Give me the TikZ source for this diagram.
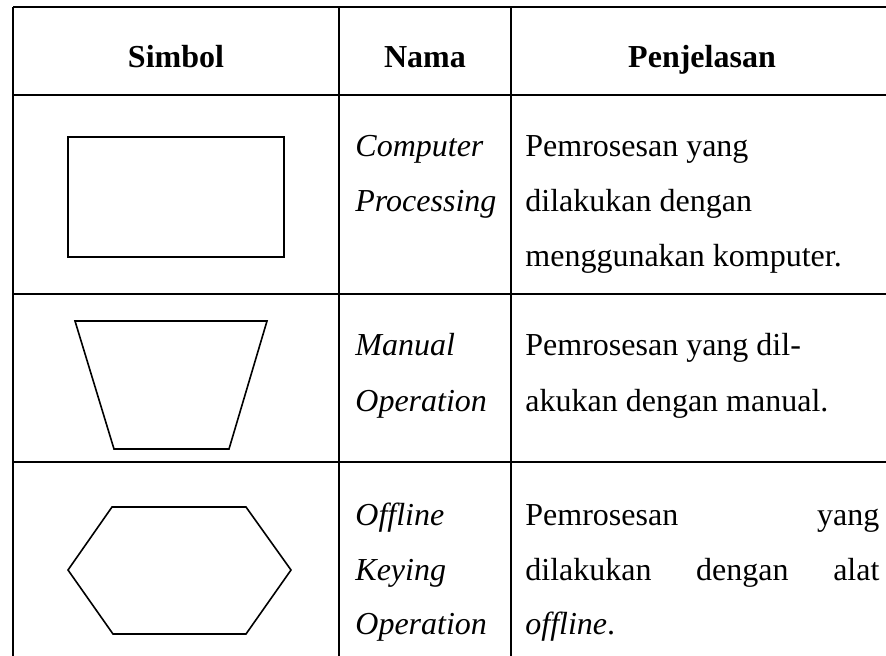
\documentclass[tikz,border=0pt]{standalone}
\usepackage{fontspec}
\setmainfont{Liberation Serif}
\begin{document}
\begin{tikzpicture}[x=0.5pt,y=-0.5pt,
  grid/.style={line width=1.2pt},
  shp/.style={line width=0.8pt, line join=miter},
  hdr/.style={anchor=base, inner sep=0pt, font=\fontsize{16}{19}\selectfont\bfseries},
  txt/.style={anchor=base west, inner sep=0pt, font=\fontsize{16}{19}\selectfont},
  nm/.style={txt, font=\fontsize{16}{19}\selectfont\itshape}]
\useasboundingbox (0,0) rectangle (886,656);
% grid
\draw[grid] (13,7) -- (886,7);
\draw[grid] (13,95) -- (886,95);
\draw[grid] (13,294) -- (886,294);
\draw[grid] (13,462) -- (886,462);
\draw[grid] (13,7) -- (13,656);
\draw[grid] (339,7) -- (339,656);
\draw[grid] (511,7) -- (511,656);
% header
\node[hdr] (h1) at (176,68) {Simbol};
\node[hdr] (h2) at (425,68) {Nama};
\node[hdr] (h3) at (702,68) {Penjelasan};
% row 1
\draw[shp] (68,137) rectangle (284,257);
\node[nm] (n1a) at (355,157) {Computer};
\node[nm] (n1b) at (355,212) {Processing};
\node[txt] (d1a) at (525,157) {Pemrosesan yang};
\node[txt] (d1b) at (525,212) {dilakukan dengan};
\node[txt] (d1c) at (525,267) {menggunakan komputer.};
% row 2
\draw[shp] (75,321) -- (267,321) -- (229,449) -- (114,449) -- cycle;
\node[nm] (n2a) at (355,356) {Manual};
\node[nm] (n2b) at (355,411) {Operation};
\node[txt] (d2a) at (525,356) {Pemrosesan yang dil-};
\node[txt] (d2b) at (525,411) {akukan dengan manual.};
% row 3
\draw[shp] (112,507) -- (246,507) -- (291,570) -- (246,634) -- (113,634) -- (68,570) -- cycle;
\node[nm] (n3a) at (355,525) {Offline};
\node[nm] (n3b) at (355,580) {Keying};
\node[nm] (n3c) at (355,634) {Operation};
\node[txt] (d3a) at (525,525) {\makebox[177pt][s]{Pemrosesan\hfill yang}};
\node[txt] (d3b) at (525,580) {\makebox[177pt][s]{dilakukan\hfill dengan\hfill alat}};
\node[txt] (d3c) at (525,634) {\textit{offline}.};
\end{tikzpicture}
\end{document}
